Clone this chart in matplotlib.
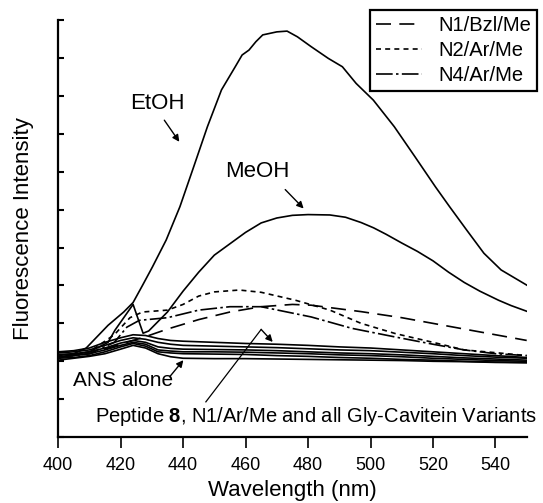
import numpy as np
import matplotlib
matplotlib.use("Agg")
import matplotlib.pyplot as plt

plt.rcParams['font.family'] = ['Liberation Sans', 'DejaVu Sans']
plt.rcParams['mathtext.fontset'] = 'custom'
plt.rcParams['mathtext.rm'] = 'Liberation Sans'
plt.rcParams['mathtext.bf'] = 'Liberation Sans:bold'

# solvent spectra
wl_etoh = [400, 405, 409, 416, 421, 424, 427, 430.2, 434.6, 439, 443.4, 447.8, 452.3, 456.7,
           458.9, 461.1, 463.3, 465.5, 470, 473.3, 476.6, 481, 486.5, 491, 495.4, 500.9,
           507.6, 514.2, 520.8, 525.3, 530.8, 536.3, 541.8, 550]
etoh = [2.15, 2.2, 2.35, 2.95, 3.3, 3.55, 4.0, 4.49, 5.2, 6.08, 7.13, 8.19, 9.16, 9.77,
        10.08, 10.21, 10.43, 10.61, 10.69, 10.71, 10.56, 10.3, 9.99, 9.77, 9.33, 8.89,
        8.19, 7.4, 6.6, 6.08, 5.46, 4.85, 4.41, 4.01]

wl_meoh = [400, 410, 416, 418.2, 424, 427.2, 429, 435, 440, 445, 450, 455, 460, 465, 470, 475,
           480, 487, 492, 497, 501, 505, 510, 515, 520, 525, 530, 535, 541, 545, 550]
meoh = [2.1, 2.25, 2.5, 2.82, 3.5, 2.74, 2.8, 3.3, 3.85, 4.35, 4.8, 5.1, 5.4, 5.65, 5.78, 5.85,
        5.87, 5.86, 5.8, 5.66, 5.52, 5.35, 5.12, 4.9, 4.65, 4.35, 4.08, 3.85, 3.61, 3.47, 3.32]

# cavitein variants
wl_n1bzl = [400, 410, 420, 428, 435, 445, 455, 465, 475, 481, 497, 510, 520, 530, 540, 550]
n1bzl = [2.1, 2.2, 2.45, 2.65, 2.85, 3.1, 3.3, 3.44, 3.5, 3.48, 3.31, 3.15, 3.0, 2.85, 2.7, 2.55]

wl_n2ar = [400, 410, 418, 423, 427, 435, 440, 445, 450, 458, 465, 476, 487, 497, 508, 520, 530, 541, 550]
n2ar = [2.1, 2.25, 2.7, 3.15, 3.3, 3.35, 3.5, 3.72, 3.83, 3.88, 3.82, 3.61, 3.35, 3.0, 2.73, 2.5, 2.3, 2.22, 2.15]

wl_n4ar = [400, 410, 418, 422, 426, 435, 445, 455, 465, 481, 494, 508, 520, 530, 540, 550]
n4ar = [2.1, 2.2, 2.5, 2.9, 3.08, 3.15, 3.35, 3.44, 3.44, 3.17, 2.87, 2.64, 2.45, 2.3, 2.2, 2.15]

# peptide 8, N1/Ar/Me, Gly-cavitein variants
wl_base = [400, 405, 410, 415, 420, 424, 428, 432, 436, 440, 450, 460, 470, 480, 490, 500, 510, 520, 530, 540, 550]
base1 = [2.25, 2.28, 2.35, 2.5, 2.62, 2.7, 2.68, 2.6, 2.55, 2.53, 2.5, 2.47, 2.45, 2.42, 2.38, 2.35, 2.3, 2.25, 2.2, 2.15, 2.1]
base2 = [2.22, 2.25, 2.3, 2.42, 2.55, 2.62, 2.58, 2.5, 2.45, 2.42, 2.4, 2.38, 2.36, 2.33, 2.3, 2.28, 2.24, 2.2, 2.15, 2.11, 2.08]
base3 = [2.18, 2.2, 2.25, 2.35, 2.48, 2.55, 2.5, 2.38, 2.34, 2.32, 2.31, 2.3, 2.28, 2.25, 2.22, 2.2, 2.17, 2.13, 2.09, 2.06, 2.03]
base4 = [2.12, 2.15, 2.2, 2.3, 2.42, 2.5, 2.45, 2.3, 2.27, 2.25, 2.25, 2.24, 2.22, 2.2, 2.17, 2.15, 2.12, 2.08, 2.05, 2.02, 2.0]
base5 = [2.08, 2.1, 2.15, 2.25, 2.38, 2.47, 2.4, 2.25, 2.22, 2.2, 2.19, 2.18, 2.15, 2.13, 2.1, 2.08, 2.05, 2.03, 2.0, 1.98, 1.97]
ans = [2.03, 2.08, 2.13, 2.2, 2.32, 2.42, 2.35, 2.2, 2.12, 2.08, 2.07, 2.07, 2.06, 2.05, 2.04, 2.03, 2.02, 2.0, 1.99, 1.97, 1.96]

fig = plt.figure(figsize=(5.43, 5.03), dpi=100)
ax = fig.add_axes([0.107, 0.131, 0.863, 0.829])

lw = 1.2
ax.plot(wl_etoh, etoh, 'k-', lw=lw)
ax.plot(wl_meoh, meoh, 'k-', lw=lw)
for b in [base1, base2, base3, base4, base5, ans]:
    ax.plot(wl_base, b, 'k-', lw=lw)
l1, = ax.plot(wl_n1bzl, n1bzl, color='k', lw=lw, dashes=(9, 5))
l2, = ax.plot(wl_n2ar, n2ar, color='k', lw=lw, dashes=(3, 2.5))
l3, = ax.plot(wl_n4ar, n4ar, color='k', lw=lw, dashes=(10, 2, 1.5, 2))

ax.set_xlim(400, 550)
ax.set_ylim(0, 11)
ax.set_xticks(range(400, 541, 20))
ax.set_yticks(range(0, 12))
ax.set_yticklabels([])
ax.tick_params(axis='x', direction='out', length=8, width=1.2, labelsize=13, pad=6)
ax.tick_params(axis='y', direction='in', length=4.5, width=1.5)
for s in ['top', 'right']:
    ax.spines[s].set_visible(False)
ax.spines['left'].set_linewidth(1.6)
ax.spines['bottom'].set_linewidth(1.6)

ax.set_xlabel('Wavelength (nm)', fontsize=16, labelpad=5)
ax.set_ylabel('Fluorescence Intensity', fontsize=16, labelpad=14)

arr = dict(arrowstyle='-|>', color='k', lw=1.0, mutation_scale=10, shrinkA=0, shrinkB=0)
ax.text(431.8, 8.8, 'EtOH', fontsize=16, ha='center', va='center')
ax.annotate('', xy=(438.8, 7.79), xytext=(434, 8.36), arrowprops=arr)
ax.text(463.9, 7.0, 'MeOH', fontsize=16, ha='center', va='center')
ax.annotate('', xy=(478.6, 6.03), xytext=(472.7, 6.53), arrowprops=arr)
ax.text(420.8, 1.5, 'ANS alone', fontsize=15, ha='center', va='center')
ax.annotate('', xy=(440.1, 2.03), xytext=(435.7, 1.59), arrowprops=arr)
ax.text(411.9, 0.54, r'Peptide $\mathbf{8}$, N1/Ar/Me and all Gly-Cavitein Variants',
        fontsize=14.5, ha='left', va='center', clip_on=False)
ax.plot([447.3, 465], [0.93, 2.84], 'k-', lw=0.9)
ax.annotate('', xy=(468.7, 2.51), xytext=(465, 2.84), arrowprops=arr)

leg = ax.legend([l1, l2, l3], ['N1/Bzl/Me', 'N2/Ar/Me', 'N4/Ar/Me'], loc='upper right',
                bbox_to_anchor=(537 / 543, (503 - 10) / 503), bbox_transform=fig.transFigure,
                borderaxespad=0, fontsize=14.5, handlelength=2.3, labelspacing=0.3,
                handletextpad=0.8, borderpad=0.3, fancybox=False, framealpha=1)
leg.get_frame().set_edgecolor('k')
leg.get_frame().set_linewidth(1.6)

fig.savefig('out.png', dpi=100)
